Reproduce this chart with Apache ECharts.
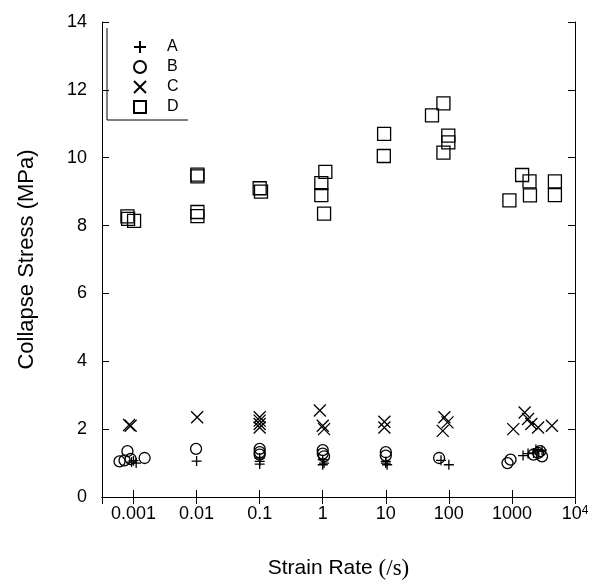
<!DOCTYPE html>
<html>
<head>
<meta charset="utf-8">
<script src="https://cdn.jsdelivr.net/npm/echarts@6/dist/echarts.min.js"></script>
<style>
html,body{margin:0;padding:0;background:#fff;}
#c{width:595px;height:586px;}
</style>
</head>
<body>
<div id="c"></div>
<script>
// ---- data ----
const seriesNames = ['A', 'B', 'C', 'D'];
const xTickLabels = ['0.001', '0.01', '0.1', '1', '10', '100', '1000', '10{s|4}'];
const xTickExponents = [-3, -2, -1, 0, 1, 2, 3, 4];

const aRate   = [0.00093, 0.0011, 0.001, 0.01, 0.1, 0.1, 0.1, 1, 1.05, 1, 10, 10, 10.5, 100, 75, 1500, 1800, 2200, 2600, 3000, 2400];
const aStress = [1.03, 1.0, 1.07, 1.06, 1.15, 1.05, 0.97, 1.1, 1.0, 0.95, 1.05, 1.0, 0.95, 0.95, 1.08, 1.22, 1.28, 1.3, 1.35, 1.38, 1.4];

const bRate   = [0.0006, 0.0008, 0.00072, 0.0009, 0.0015, 0.0098, 0.1, 0.1, 0.1, 1, 1, 1.05, 10, 10, 70, 850, 950, 2200, 2600, 3000, 2800];
const bStress = [1.05, 1.35, 1.08, 1.12, 1.15, 1.42, 1.42, 1.32, 1.25, 1.38, 1.28, 1.2, 1.32, 1.22, 1.15, 1.0, 1.1, 1.25, 1.3, 1.2, 1.35];

const cRate   = [0.00085, 0.0009, 0.0102, 0.1, 0.1, 0.1, 0.1, 0.9, 1.0, 1.05, 9.5, 9.5, 85, 95, 80, 1590, 1050, 2030, 2600, 4300, 1800];
const cStress = [2.12, 2.1, 2.35, 2.35, 2.25, 2.15, 2.05, 2.55, 2.1, 2.0, 2.22, 2.05, 2.35, 2.2, 1.95, 2.49, 2.0, 2.15, 2.05, 2.1, 2.3];

const dRate   = [0.0008, 0.00082, 0.00102, 0.0103, 0.0103, 0.0103, 0.0103, 0.1, 0.105, 1.1, 0.95, 0.95, 1.05, 9.4, 9.3, 82, 54, 98, 98, 82, 912, 1450, 1900, 1930, 4800, 4800];
const dStress = [8.27, 8.2, 8.14, 9.5, 9.45, 8.4, 8.28, 9.1, 9.0, 9.58, 9.25, 8.9, 8.35, 10.7, 10.05, 11.6, 11.25, 10.65, 10.45, 10.15, 8.74, 9.49, 9.3, 8.89, 9.3, 8.9];

const yMin = 0, yMax = 14, yStep = 2;
const xMin = Math.pow(10, -3.5), xMax = 10000;

// ---- build ----
function pairs(xs, ys){ return xs.map((x,i)=>[x, ys[i]]); }
const symbols = {
  A: 'path://M0,5L10,5M5,0L5,10',
  B: 'circle',
  C: 'path://M0,0L10,10M10,0L0,10',
  D: 'rect'
};
const sizes = {A: 10, B: 11, C: 12, D: 13};
const dataMap = {A: pairs(aRate, aStress), B: pairs(bRate, bStress), C: pairs(cRate, cStress), D: pairs(dRate, dStress)};

function xLabel(v){
  const lg = Math.log10(v);
  const e = Math.round(lg);
  if (Math.abs(lg - e) > 1e-6) return '';
  const idx = xTickExponents.indexOf(e);
  return idx >= 0 ? xTickLabels[idx] : '';
}

const font = 'Liberation Sans, Arial, sans-serif';
const axisCommon = {
  axisLine: {show: true, lineStyle: {color: '#000', width: 1}},
  axisTick: {show: true, inside: true, length: 7, lineStyle: {color: '#000', width: 1}},
  splitLine: {show: false}
};

const chart = echarts.init(document.getElementById('c'), null, {renderer: 'canvas'});
chart.setOption({
  animation: false,
  backgroundColor: '#fff',
  grid: {left: 102, right: 20, top: 22, bottom: 89, containLabel: false},
  legend: {
    data: seriesNames,
    orient: 'vertical',
    left: 128, top: 34,
    itemWidth: 12, itemHeight: 12, itemGap: 4,
    textStyle: {fontFamily: font, fontSize: 16, color: '#000', lineHeight: 16, padding: [0, 0, 0, 16]},
    inactiveColor: '#000'
  },
  graphic: [
    {type: 'line', shape: {x1: 107, y1: 28, x2: 107, y2: 120}, style: {stroke: '#000', lineWidth: 1}},
    {type: 'line', shape: {x1: 107, y1: 120, x2: 188, y2: 120}, style: {stroke: '#000', lineWidth: 1}}
  ],
  xAxis: [
    Object.assign({
      type: 'log', logBase: 10, min: xMin, max: xMax, position: 'bottom',
      name: 'Strain Rate {m|(/s)}', nameLocation: 'middle', nameGap: 60,
      nameTextStyle: {fontFamily: font, fontSize: 21, color: '#000',
        rich: {m: {fontFamily: 'Liberation Serif, Times New Roman, serif', fontSize: 23, color: '#000'}}},
      axisLabel: {show: true, formatter: xLabel, margin: 8, fontFamily: font, fontSize: 18, color: '#000',
        showMinLabel: false,
        rich: {s: {fontSize: 12, verticalAlign: 'top', lineHeight: 10, padding: [0,0,10,0], fontFamily: font, color: '#000'}}}
    }, axisCommon),
    Object.assign({
      type: 'log', logBase: 10, min: xMin, max: xMax, position: 'top',
      axisLabel: {show: false}
    }, axisCommon)
  ],
  yAxis: [
    Object.assign({
      type: 'value', min: yMin, max: yMax, interval: yStep, position: 'left',
      name: 'Collapse Stress (MPa)', nameLocation: 'middle', nameGap: 64,
      nameTextStyle: {fontFamily: font, fontSize: 22, color: '#000'},
      axisLabel: {show: true, margin: 15, fontFamily: font, fontSize: 18, color: '#000'}
    }, axisCommon),
    Object.assign({
      type: 'value', min: yMin, max: yMax, interval: yStep, position: 'right',
      axisLabel: {show: false}
    }, axisCommon)
  ],
  series: seriesNames.map(n => ({
    name: n,
    type: 'scatter',
    xAxisIndex: 0, yAxisIndex: 0,
    symbol: symbols[n],
    symbolSize: sizes[n],
    data: dataMap[n],
    itemStyle: {color: 'rgba(0,0,0,0)', borderColor: '#000', borderWidth: 1.3, opacity: 1},
    emphasis: {disabled: true}
  }))
});
</script>
</body>
</html>
